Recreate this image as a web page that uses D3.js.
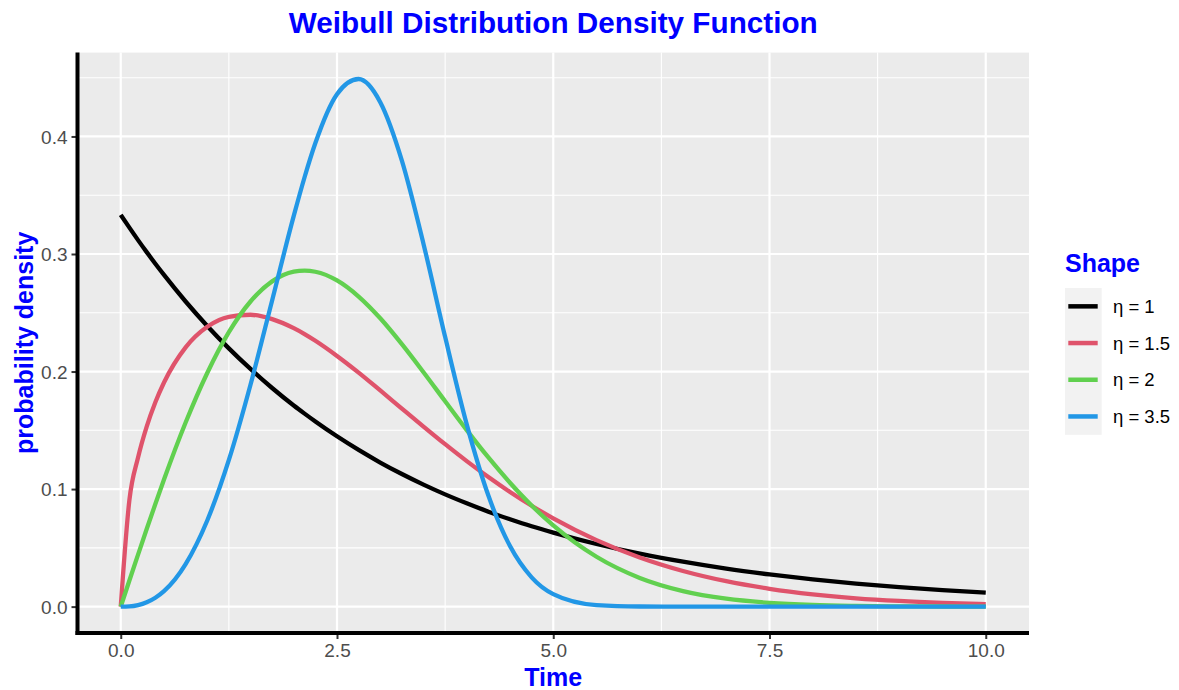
<!DOCTYPE html>
<html>
<head>
<meta charset="utf-8">
<script src="https://d3js.org/d3.v7.min.js"></script>
<style>
  body { margin: 0; background: white; }
  text { font-family: "Liberation Sans", Arial, sans-serif; }
</style>
</head>
<body>
<div id="chart"></div>
<script>
// Values (time, density for each shape)
const times = [0, 0.1, 0.2, 0.3, 0.4, 0.5, 0.75, 1, 1.25, 1.5, 1.75, 2, 2.125, 2.25, 2.5, 2.75, 3,
    3.25, 3.5, 3.75, 4, 4.25, 4.5, 4.75, 5, 5.5, 6, 6.5, 7, 7.5, 8, 8.5, 9, 9.5, 10];
const eta1 = [0.3333, 0.3224, 0.3118, 0.3016, 0.2917, 0.2822, 0.2596, 0.2388, 0.2197, 0.2022,
    0.1860, 0.1711, 0.1642, 0.1575, 0.1449, 0.1333, 0.1226, 0.1128, 0.1038, 0.0955, 0.0879, 0.0808,
    0.0744, 0.0684, 0.0630, 0.0533, 0.0451, 0.0382, 0.0323, 0.0274, 0.0232, 0.0196, 0.0166,
    0.0140, 0.0119];
const eta15 = [0, 0.0907, 0.1269, 0.1532, 0.1739, 0.1907, 0.2206, 0.2381, 0.2466, 0.2483,
    0.2446, 0.2369, 0.2319, 0.2262, 0.2133, 0.1991, 0.1839, 0.1685, 0.1532, 0.1382, 0.1238, 0.1102,
    0.0975, 0.0858, 0.0751, 0.0566, 0.0418, 0.0303, 0.0216, 0.0152, 0.0105, 0.0071, 0.0048,
    0.0032, 0.0021];
const eta2 = [0, 0.0222, 0.0442, 0.0660, 0.0873, 0.1081, 0.1566, 0.1988, 0.2335, 0.2596,
    0.2767, 0.2850, 0.2859, 0.2849, 0.2775, 0.2638, 0.2453, 0.2233, 0.1994, 0.1747, 0.1502, 0.1269,
    0.1054, 0.0860, 0.0691, 0.0424, 0.0244, 0.0132, 0.0067, 0.0032, 0.0014, 0.0006, 0.0002,
    0.0001, 0];
const eta35 = [0, 0.0002, 0.0013, 0.0037, 0.0076, 0.0132, 0.0362, 0.0733, 0.1248, 0.1888,
    0.2605, 0.3324, 0.3653, 0.3944, 0.4360, 0.4489, 0.4292, 0.3795, 0.3086, 0.2295, 0.1551, 0.0945,
    0.0515, 0.0249, 0.0106, 0.0013, 0.0001, 0, 0, 0, 0, 0, 0, 0, 0];
const shapeLabels = ["1", "1.5", "2", "3.5"];
const shapeColors = ["#000000", "#DF536B", "#61D04F", "#2297E6"];
const xTicks = [0, 2.5, 5, 7.5, 10];
const yTicks = [0, 0.1, 0.2, 0.3, 0.4];

const series = [eta1, eta15, eta2, eta35].map((vals, i) => {
    return {label: shapeLabels[i], color: shapeColors[i],
        points: times.map((t, j) => { return {x: t, y: vals[j]}; })};
});

const width = 1179, height = 690;
const panel = {left: 77.5, right: 1029, top: 52.6, bottom: 633};

const svg = d3.select("#chart")
    .append("svg")
    .attr("width", width)
    .attr("height", height);

// ggplot style 5% expansion
const x = d3.scaleLinear()
    .domain([-0.5, 10.5])
    .range([panel.left, panel.right]);
const yMax = d3.max(eta35);
const y = d3.scaleLinear()
    .domain([-0.05 * yMax, 1.05 * yMax])
    .range([panel.bottom, panel.top]);

svg.append("rect")
    .attr("x", panel.left)
    .attr("y", panel.top)
    .attr("width", panel.right - panel.left)
    .attr("height", panel.bottom - panel.top)
    .style("fill", "#EBEBEB");

// Grid lines
const grid = svg.append("g");
const xMinor = xTicks.slice(0, -1).map((d) => {return d + 1.25;});
const yMinor = yTicks.map((d) => {return d + 0.05;}).filter((d) => {return y(d) > panel.top;});

grid.selectAll(".xminor")
    .data(xMinor)
    .enter()
    .append("line")
    .attr("x1", (d) => {return x(d);})
    .attr("x2", (d) => {return x(d);})
    .attr("y1", panel.top)
    .attr("y2", panel.bottom)
    .style("stroke", "white")
    .style("stroke-width", 1.1);
grid.selectAll(".yminor")
    .data(yMinor)
    .enter()
    .append("line")
    .attr("x1", panel.left)
    .attr("x2", panel.right)
    .attr("y1", (d) => {return y(d);})
    .attr("y2", (d) => {return y(d);})
    .style("stroke", "white")
    .style("stroke-width", 1.1);
grid.selectAll(".xmajor")
    .data(xTicks)
    .enter()
    .append("line")
    .attr("x1", (d) => {return x(d);})
    .attr("x2", (d) => {return x(d);})
    .attr("y1", panel.top)
    .attr("y2", panel.bottom)
    .style("stroke", "white")
    .style("stroke-width", 2.2);
grid.selectAll(".ymajor")
    .data(yTicks)
    .enter()
    .append("line")
    .attr("x1", panel.left)
    .attr("x2", panel.right)
    .attr("y1", (d) => {return y(d);})
    .attr("y2", (d) => {return y(d);})
    .style("stroke", "white")
    .style("stroke-width", 2.2);

// Curves
const line = d3.line()
    .x((d) => {return x(d.x);})
    .y((d) => {return y(d.y);})
    .curve(d3.curveMonotoneX);

svg.append("g")
    .selectAll("path")
    .data(series)
    .enter()
    .append("path")
    .attr("d", (d) => {return line(d.points);})
    .style("fill", "none")
    .style("stroke", (d) => {return d.color;})
    .style("stroke-width", 4.3)
    .style("stroke-linejoin", "round");

// Axes
const xAxis = svg.append("g")
    .attr("transform", "translate(0," + panel.bottom + ")")
    .call(d3.axisBottom(x).tickValues(xTicks).tickFormat(d3.format(".1f")).tickSize(6).tickPadding(5));
const yAxis = svg.append("g")
    .attr("transform", "translate(" + panel.left + ",0)")
    .call(d3.axisLeft(y).tickValues(yTicks).tickFormat(d3.format(".1f")).tickSize(6).tickPadding(4));

[xAxis, yAxis].forEach((ax) => {
    ax.select(".domain").remove();
    ax.selectAll(".tick line").style("stroke", "#333333").style("stroke-width", 2);
    ax.selectAll(".tick text")
        .style("fill", "#4D4D4D")
        .style("font-size", "19px")
        .style("font-family", "'Liberation Sans', Arial, sans-serif");
});
yAxis.selectAll(".tick text").attr("dy", "0.35em");

svg.append("line")
    .attr("x1", panel.left)
    .attr("x2", panel.left)
    .attr("y1", panel.top)
    .attr("y2", panel.bottom + 2)
    .style("stroke", "black")
    .style("stroke-width", 4);
svg.append("line")
    .attr("x1", panel.left - 2)
    .attr("x2", panel.right)
    .attr("y1", panel.bottom)
    .attr("y2", panel.bottom)
    .style("stroke", "black")
    .style("stroke-width", 4);

// Titles
svg.append("text")
    .text("Weibull Distribution Density Function")
    .attr("x", (panel.left + panel.right) / 2)
    .attr("y", 33)
    .attr("text-anchor", "middle")
    .style("font-size", "29.7px")
    .style("font-weight", "bold")
    .style("fill", "#0000FF");
svg.append("text")
    .text("Time")
    .attr("x", (panel.left + panel.right) / 2)
    .attr("y", 686)
    .attr("text-anchor", "middle")
    .style("font-size", "25px")
    .style("font-weight", "bold")
    .style("fill", "#0000FF");
svg.append("text")
    .text("probability density")
    .attr("transform", "translate(33," + (panel.top + panel.bottom) / 2 + ") rotate(-90)")
    .attr("text-anchor", "middle")
    .style("font-size", "25px")
    .style("font-weight", "bold")
    .style("fill", "#0000FF");

// Legend
const legend = svg.append("g")
    .attr("transform", "translate(1065,288)");
const keySize = 36.7;
legend.append("text")
    .text("Shape")
    .attr("x", 0)
    .attr("y", -16)
    .style("font-size", "25px")
    .style("font-weight", "bold")
    .style("fill", "#0000FF");
legend.append("rect")
    .attr("width", keySize)
    .attr("height", keySize * series.length)
    .style("fill", "#F2F2F2");
const keys = legend.selectAll(".key")
    .data(series)
    .enter()
    .append("g")
    .attr("transform", (d, i) => {return "translate(0," + (i * keySize + keySize / 2) + ")";});
keys.append("line")
    .attr("x1", 3.3)
    .attr("x2", 32.7)
    .style("stroke", (d) => {return d.color;})
    .style("stroke-width", 4.5);
keys.append("text")
    .text((d) => {return "\u03B7 = " + d.label;})
    .attr("x", 48)
    .attr("y", 6.5)
    .style("font-size", "18.5px")
    .style("fill", "black");
</script>
</body>
</html>
